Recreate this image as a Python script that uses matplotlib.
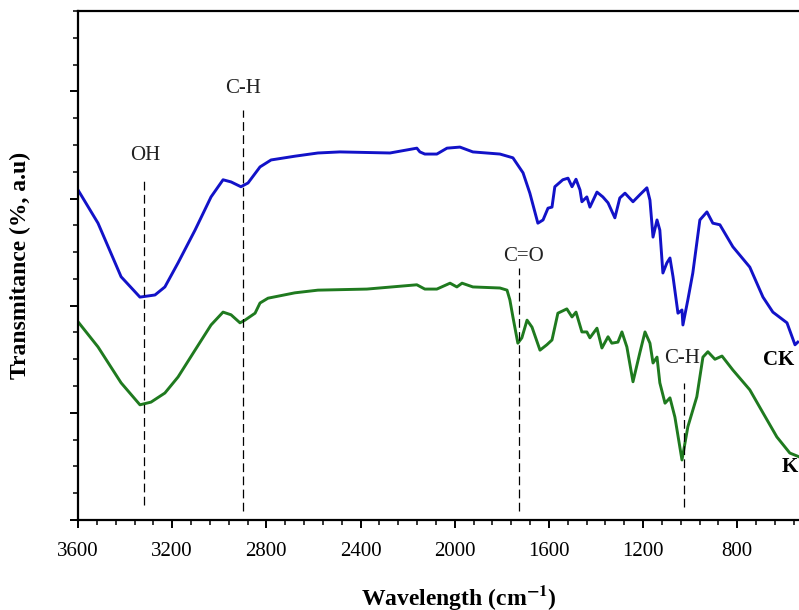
'''
FTIR spectra of K and CK samples with band assignments
'''
import numpy as np
import matplotlib as mpl
mpl.use('Agg')
import matplotlib.pyplot as plt
from matplotlib.ticker import MultipleLocator

# DATA (wavenumber in cm-1 and transmittance in a.u.)
ck_wn = [3600, 3515, 3417, 3337, 3273, 3231, 3175, 3103, 3035, 2984, 2950, 2908, 2878,
         2827, 2780, 2679, 2581, 2488, 2275, 2161, 2148, 2127, 2076, 2033, 1978, 1923,
         1808, 1753, 1710, 1681, 1647, 1625, 1604, 1587, 1575, 1541, 1519, 1502, 1485,
         1468, 1460, 1439, 1426, 1396, 1371, 1349, 1320, 1299, 1277, 1243, 1214, 1184,
         1171, 1158, 1141, 1129, 1116, 1099, 1086, 1073, 1052, 1035, 1031, 1010, 989,
         959, 929, 904, 874, 819, 747, 691, 649, 589, 555, 543]
ck_t = [61.6, 55.4, 45.4, 41.6, 42.0, 43.5, 48.0, 54.1, 60.3, 63.5, 63.1, 62.2, 62.9,
        65.9, 67.2, 67.9, 68.5, 68.7, 68.5, 69.4, 68.7, 68.3, 68.3, 69.4, 69.6, 68.7,
        68.3, 67.6, 64.8, 61.0, 55.4, 56.0, 58.2, 58.4, 62.2, 63.5, 63.8, 62.2, 63.6,
        61.6, 59.4, 60.3, 58.4, 61.2, 60.3, 59.2, 56.4, 60.1, 61.0, 59.4, 60.7, 62.0,
        59.7, 52.8, 56.0, 54.1, 46.1, 48.0, 48.9, 45.4, 38.6, 39.2, 36.4, 41.1, 46.1,
        56.0, 57.5, 55.4, 55.1, 51.0, 47.2, 41.6, 38.8, 36.8, 32.7, 33.2]

k_wn = [3600, 3515, 3417, 3337, 3290, 3231, 3175, 3103, 3035, 2984, 2950, 2912, 2891,
        2848, 2827, 2793, 2679, 2581, 2373, 2161, 2127, 2076, 2020, 1991, 1969, 1923,
        1808, 1778, 1766, 1753, 1732, 1715, 1693, 1672, 1638, 1609, 1587, 1562, 1524,
        1502, 1485, 1460, 1439, 1426, 1396, 1375, 1349, 1333, 1307, 1290, 1269, 1243,
        1214, 1192, 1171, 1158, 1141, 1129, 1107, 1086, 1065, 1035, 1010, 972, 946,
        925, 895, 865, 819, 747, 691, 632, 577, 538]
k_t = [37.0, 32.3, 25.6, 21.5, 22.0, 23.7, 26.7, 31.7, 36.4, 38.8, 38.3, 36.8, 37.3,
       38.6, 40.5, 41.4, 42.4, 42.9, 43.1, 43.9, 43.1, 43.1, 44.2, 43.5, 44.2, 43.5,
       43.3, 42.9, 41.1, 37.9, 33.0, 34.0, 37.3, 36.0, 31.7, 32.7, 33.6, 38.6, 39.4,
       37.9, 38.8, 35.1, 35.1, 34.0, 35.8, 32.1, 34.2, 33.0, 33.2, 35.1, 32.3, 25.8,
       31.2, 35.1, 33.0, 29.3, 30.4, 25.6, 21.8, 22.8, 19.2, 11.2, 17.4, 23.0, 30.4,
       31.4, 30.0, 30.6, 28.0, 24.3, 20.0, 15.5, 12.5, 11.8]

# band assignments: label, wavenumber, line bottom, line top, label height
band_names = ['OH', 'C-H', 'C=O', 'C-H']
band_wn = [3320, 2900, 1727, 1027]
band_lo = [2.8, 1.7, 1.7, 2.4]
band_hi = [63.8, 76.5, 47.0, 25.6]
band_txt_y = [68.1, 80.6, 49.1, 30.2]
band_txt_x = [3316, 2900, 1710, 1035]

plt.rcParams['font.family'] = ['Liberation Serif', 'DejaVu Serif']
plt.rcParams['mathtext.fontset'] = 'stix'

fig = plt.figure(figsize=(7.99, 6.10), dpi=100)
ax = fig.add_axes([78/799, 90/610, 1 - 78/799, 509/610])

plt.plot(ck_wn, ck_t, color='#1212c8', lw=2.1, solid_joinstyle='round')
plt.plot(k_wn, k_t, color='#1f7a1f', lw=2.1, solid_joinstyle='round')

# dashed band markers and labels
for i in range(0, len(band_names)):
    plt.plot([band_wn[i], band_wn[i]], [band_lo[i], band_hi[i]], color='black',
             lw=0.9, dashes=(7, 3.5))
    plt.text(band_txt_x[i], band_txt_y[i], band_names[i], ha='center', va='center',
             fontsize=15, color='#222222')

# sample names at the right edge
plt.text(690, 29.9, 'CK', ha='left', va='center', fontsize=15, fontweight='bold', clip_on=False)
plt.text(611, 9.9, 'K', ha='left', va='center', fontsize=15, fontweight='bold', clip_on=False)

plt.xlim(3600, 538)
plt.ylim(0, 95)
ax.xaxis.set_major_locator(MultipleLocator(400))
ax.xaxis.set_minor_locator(MultipleLocator(80))
ax.yaxis.set_major_locator(MultipleLocator(20))
ax.yaxis.set_minor_locator(MultipleLocator(5))
ax.tick_params(which='major', direction='out', length=6, width=1.4, labelsize=15, pad=10)
ax.tick_params(which='minor', direction='out', length=3.5, width=1.1)
ax.tick_params(axis='y', labelleft=False)
ax.spines['right'].set_visible(False)
for s in ['left', 'bottom', 'top']:
    ax.spines[s].set_linewidth(1.6)

fig.text(20/799, 1 - 265/610, 'Transmitance (%, a.u)', rotation=90, ha='center', va='center',
         fontsize=17, fontweight='bold')
fig.text(459/799, 1 - 597/610, r'Wavelength (cm$^{\mathbf{-1}}$)', ha='center', va='center',
         fontsize=17, fontweight='bold')

plt.savefig('out.png', dpi=100)
plt.close()
